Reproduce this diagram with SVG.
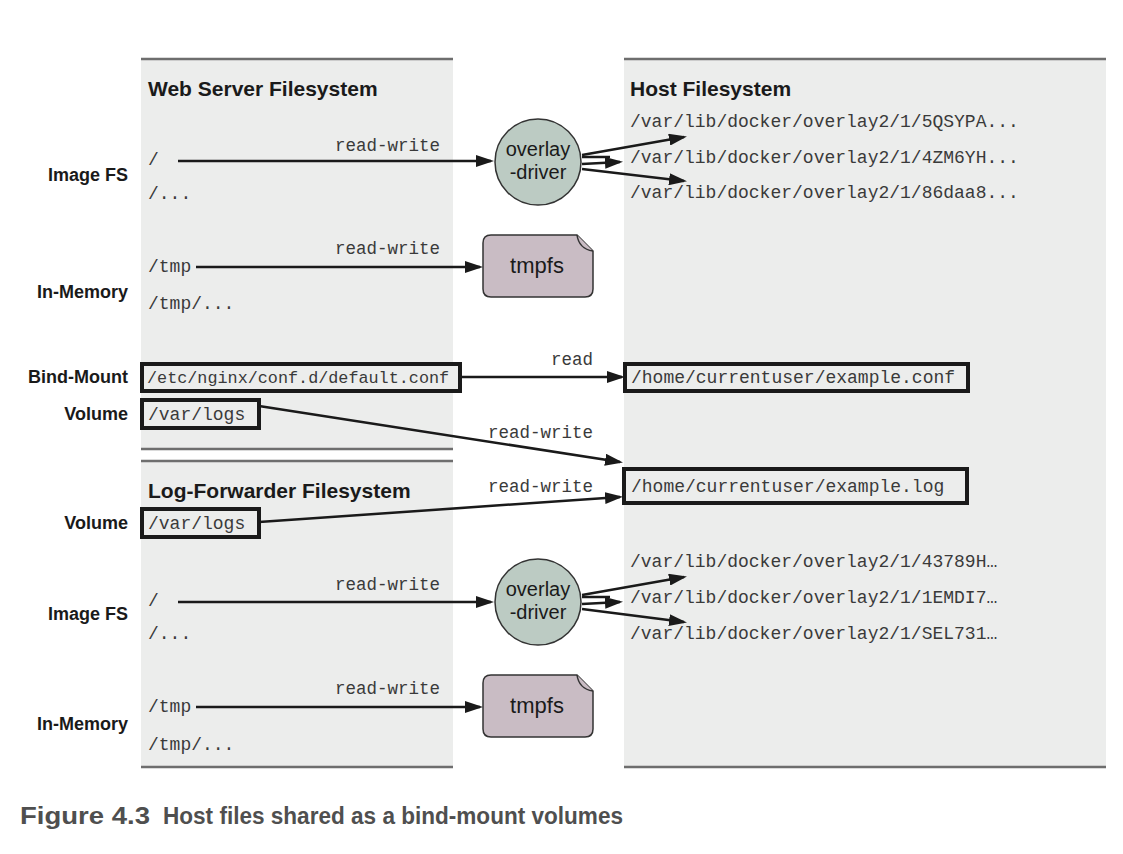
<svg xmlns="http://www.w3.org/2000/svg" width="1123" height="854" viewBox="0 0 1123 854">
<defs>
<style>
.panel{fill:#ecedec}
.edge{stroke:#6e6e6e;stroke-width:2.5;fill:none}
.h{font-family:"Liberation Sans",Arial,sans-serif;font-weight:bold;font-size:21px;fill:#1a1a1a}
.lbl{font-family:"Liberation Sans",Arial,sans-serif;font-weight:bold;font-size:18px;fill:#1a1a1a;text-anchor:end}
.mono{font-family:"Liberation Mono","Courier New",monospace;font-size:18px;fill:#3a3a3a}
.rw{font-family:"Liberation Mono","Courier New",monospace;font-size:17.5px;fill:#3a3a3a;text-anchor:end}
.node{font-family:"Liberation Sans",Arial,sans-serif;font-size:20px;fill:#1a1a1a;text-anchor:middle}
.box{fill:#ecedec;stroke:#1a1a1a;stroke-width:4}
.circ{fill:#bccbc3;stroke:#333;stroke-width:1.5}
.tmp{fill:#c9bcc4;stroke:#333;stroke-width:1.5}
.ln{stroke:#1a1a1a;stroke-width:2.5;fill:none}
.cap{font-family:"Liberation Sans",Arial,sans-serif;font-weight:bold;font-size:23px;fill:#4f4f4f}
</style>
<marker id="ah" viewBox="0 0 18 12" refX="15" refY="6" markerWidth="18" markerHeight="12" orient="auto" markerUnits="userSpaceOnUse">
<path d="M0,0 L18,6 L0,12 z" fill="#1a1a1a"/>
</marker>
</defs>
<rect width="1123" height="854" fill="#ffffff"/>

<g id="panels">
<rect class="panel" x="141" y="59" width="312" height="390"/>
<line class="edge" x1="141" y1="59" x2="453" y2="59"/>
<line class="edge" x1="141" y1="449" x2="453" y2="449"/>
<rect class="panel" x="141" y="461" width="312" height="306"/>
<line class="edge" x1="141" y1="461" x2="453" y2="461"/>
<line class="edge" x1="141" y1="767" x2="453" y2="767"/>
<rect class="panel" x="624" y="59" width="482" height="708"/>
<line class="edge" x1="624" y1="59" x2="1106" y2="59"/>
<line class="edge" x1="624" y1="767" x2="1106" y2="767"/>
</g>

<g id="headings">
<text class="h" x="148" y="96">Web Server Filesystem</text>
<text class="h" x="630" y="96">Host Filesystem</text>
<text class="h" x="148" y="498">Log-Forwarder Filesystem</text>
</g>

<g id="row-labels">
<text class="lbl" x="128" y="181">Image FS</text>
<text class="lbl" x="128" y="298">In-Memory</text>
<text class="lbl" x="128" y="383">Bind-Mount</text>
<text class="lbl" x="128" y="420">Volume</text>
<text class="lbl" x="128" y="529">Volume</text>
<text class="lbl" x="128" y="620">Image FS</text>
<text class="lbl" x="128" y="730">In-Memory</text>
</g>

<g id="ws-paths">
<text class="mono" x="148" y="165">/</text>
<text class="mono" x="148" y="199">/...</text>
<text class="mono" x="148" y="272">/tmp</text>
<text class="mono" x="148" y="309">/tmp/...</text>
</g>

<g id="ws-bind">
<rect class="box" x="142" y="364" width="318" height="27"/>
<text class="mono" x="147" y="383" style="font-size:16.8px">/etc/nginx/conf.d/default.conf</text>
</g>
<g id="ws-volume">
<rect class="box" x="142" y="400" width="117" height="28"/>
<text class="mono" x="148" y="420">/var/logs</text>
</g>

<g id="lf-volume">
<rect class="box" x="142" y="509" width="117" height="28"/>
<text class="mono" x="148" y="529">/var/logs</text>
</g>
<g id="lf-paths">
<text class="mono" x="148" y="606">/</text>
<text class="mono" x="148" y="639">/...</text>
<text class="mono" x="148" y="712">/tmp</text>
<text class="mono" x="148" y="750">/tmp/...</text>
</g>

<g id="overlay-1">
<circle class="circ" cx="538" cy="162" r="43"/>
<text class="node" x="538" y="156">overlay</text>
<text class="node" x="538" y="179">-driver</text>
</g>
<g id="tmpfs-1">
<path class="tmp" d="M491,235 H577 L593,251 V289 Q593,297 585,297 H491 Q483,297 483,289 V243 Q483,235 491,235 Z"/>
<path class="tmp" d="M577,235 Q579,249 593,251" fill="none"/>
<text class="node" x="537" y="273" style="font-size:22px">tmpfs</text>
</g>
<g id="overlay-2">
<circle class="circ" cx="538" cy="602" r="43"/>
<text class="node" x="538" y="596">overlay</text>
<text class="node" x="538" y="619">-driver</text>
</g>
<g id="tmpfs-2">
<path class="tmp" d="M491,675 H577 L593,691 V729 Q593,737 585,737 H491 Q483,737 483,729 V683 Q483,675 491,675 Z"/>
<path class="tmp" d="M577,675 Q579,689 593,691" fill="none"/>
<text class="node" x="537" y="713" style="font-size:22px">tmpfs</text>
</g>

<g id="host-paths">
<text class="mono" x="630" y="127">/var/lib/docker/overlay2/1/5QSYPA...</text>
<text class="mono" x="630" y="163">/var/lib/docker/overlay2/1/4ZM6YH...</text>
<text class="mono" x="630" y="198">/var/lib/docker/overlay2/1/86daa8...</text>
<text class="mono" x="630" y="567">/var/lib/docker/overlay2/1/43789H…</text>
<text class="mono" x="630" y="603">/var/lib/docker/overlay2/1/1EMDI7…</text>
<text class="mono" x="630" y="639">/var/lib/docker/overlay2/1/SEL731…</text>
</g>
<g id="host-conf">
<rect class="box" x="625" y="364" width="343" height="27"/>
<text class="mono" x="631" y="383">/home/currentuser/example.conf</text>
</g>
<g id="host-log">
<rect class="box" x="624" y="469" width="343" height="34"/>
<text class="mono" x="631" y="492">/home/currentuser/example.log</text>
</g>

<g id="connectors">
<line class="ln" x1="178" y1="161" x2="491" y2="161" marker-end="url(#ah)"/>
<text class="rw" x="440" y="151">read-write</text>
<line class="ln" x1="582" y1="155" x2="684" y2="137" marker-end="url(#ah)"/>
<line class="ln" x1="582" y1="157" x2="610" y2="157"/>
<line class="ln" x1="582" y1="164" x2="620" y2="162" marker-end="url(#ah)"/>
<line class="ln" x1="582" y1="169" x2="684" y2="181" marker-end="url(#ah)"/>

<line class="ln" x1="196" y1="267" x2="480" y2="267" marker-end="url(#ah)"/>
<text class="rw" x="440" y="254">read-write</text>

<line class="ln" x1="460" y1="377" x2="622" y2="377" marker-end="url(#ah)"/>
<text class="rw" x="593" y="365">read</text>

<line class="ln" x1="259" y1="406" x2="620" y2="462" marker-end="url(#ah)"/>
<text class="rw" x="593" y="438">read-write</text>
<line class="ln" x1="259" y1="522" x2="620" y2="497" marker-end="url(#ah)"/>
<text class="rw" x="593" y="492">read-write</text>

<line class="ln" x1="178" y1="602" x2="491" y2="602" marker-end="url(#ah)"/>
<text class="rw" x="440" y="590">read-write</text>
<line class="ln" x1="582" y1="595" x2="684" y2="577" marker-end="url(#ah)"/>
<line class="ln" x1="582" y1="597" x2="610" y2="597"/>
<line class="ln" x1="582" y1="604" x2="620" y2="602" marker-end="url(#ah)"/>
<line class="ln" x1="582" y1="609" x2="684" y2="622" marker-end="url(#ah)"/>

<line class="ln" x1="196" y1="707" x2="480" y2="707" marker-end="url(#ah)"/>
<text class="rw" x="440" y="694">read-write</text>
</g>

<g id="caption">
<text class="cap" x="20" y="824" textLength="130" lengthAdjust="spacingAndGlyphs">Figure 4.3</text>
<text class="cap" x="163" y="824" textLength="460" lengthAdjust="spacingAndGlyphs">Host files shared as a bind-mount volumes</text>
</g>
</svg>
